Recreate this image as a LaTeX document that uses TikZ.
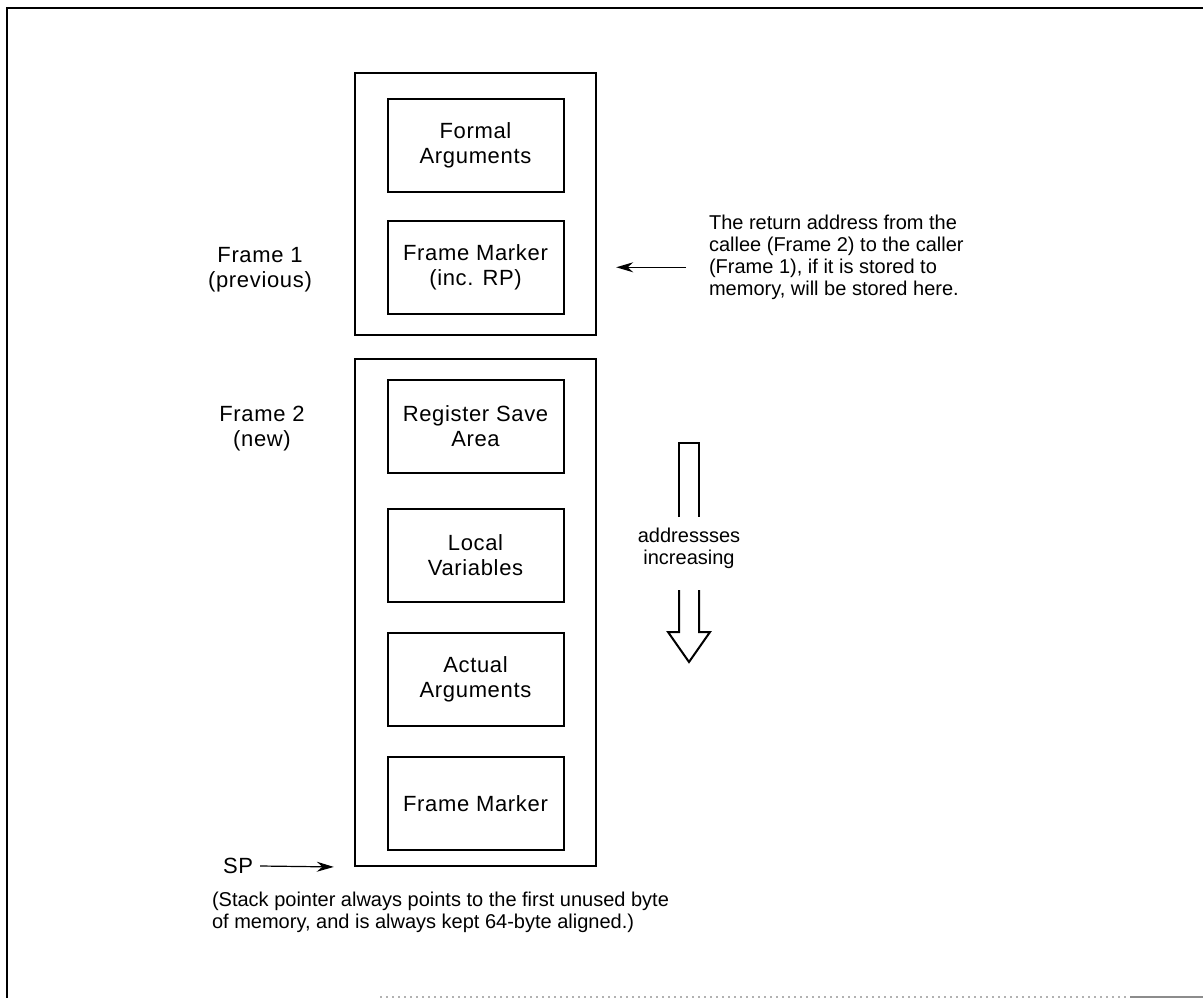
\documentclass[tikz,border=0pt]{standalone}
\usepackage{fontspec}
\setmainfont{Liberation Sans}[LetterSpace=3]
\newfontfamily\notefont{Liberation Sans}
\usepackage{tikz}
\usetikzlibrary{arrows.meta, positioning}

\begin{document}
\begin{tikzpicture}[x=0.5pt, y=-0.5pt,
    every node/.style={font=\fontsize{11}{12.5}\selectfont},
    stackframe/.style={rectangle, draw, line width=1.2pt, minimum width=120.5pt},
    slot/.style={rectangle, draw, line width=1pt, align=center, minimum width=88pt, minimum height=46.5pt},
    lbl/.style={align=center},
    note/.style={align=left, font=\notefont\fontsize{10}{11}\selectfont},
    ptr/.style={line width=0.6pt, -{Stealth[length=8.5pt, width=5pt]}},
    border/.style={line width=1.3pt}]

    \useasboundingbox (0,0) rectangle (1203,999);
    % page frame
    \draw [border] (1203,8) -- (7,8) -- (7,998);
    \draw [black!30, line width=1pt, dotted] (380,997) -- (1130,997);
    \draw [black!45, line width=1pt] (1130,997) -- (1203,997);

    % frame 1
    \node [stackframe, minimum height=131pt] (frame1) at (475.5,204) {};
    \node [slot, below=13pt of frame1.north] (formal) {Formal\\Arguments};
    \node [slot, below=13.5pt of formal] (rp) {Frame Marker\\(inc. RP)};

    % frame 2
    \node [stackframe, minimum height=253.5pt] (frame2) at (475.5,612.5) {};
    \node [slot, below=10.5pt of frame2.north] (regsave) {Register Save\\Area};
    \node [slot, below=17pt of regsave] (locals) {Local\\Variables};
    \node [slot, below=14.5pt of locals] (actual) {Actual\\Arguments};
    \node [slot, below=14.5pt of actual] (fmark) {Frame Marker};

    \node [lbl] (f1lbl) at (260,270) {Frame 1\\(previous)};
    \node [lbl] (f2lbl) at (262,429) {Frame 2\\(new)};

    % return address note
    \node [note, anchor=west] (retnote) at (702,257) {The return address from the\\callee (Frame 2) to the caller\\(Frame 1), if it is stored to\\memory, will be stored here.};
    \draw [ptr, shorten <=8pt, shorten >=9.5pt] (retnote.west |- rp) -- (frame1.east |- rp);

    % direction of growth
    \node [note, align=center] (addr) at (689,548) {addressses\\increasing};
    \draw [line width=1pt] (679,517) -- (679,443) -- (699,443) -- (699,517);
    \draw [line width=1pt, line join=miter] (679,590) -- (679,632) -- (668,632) -- (689,662) -- (710,632) -- (699,632) -- (699,590);

    % stack pointer
    \node (sp) at (238,866) {SP};
    \draw [ptr, shorten >=10pt] (sp.east) -- (frame2.south west);
    \node [note, anchor=west] (spnote) at (205,912) {(Stack pointer always points to the first unused byte\\of memory, and is always kept 64-byte aligned.)};
\end{tikzpicture}
\end{document}
